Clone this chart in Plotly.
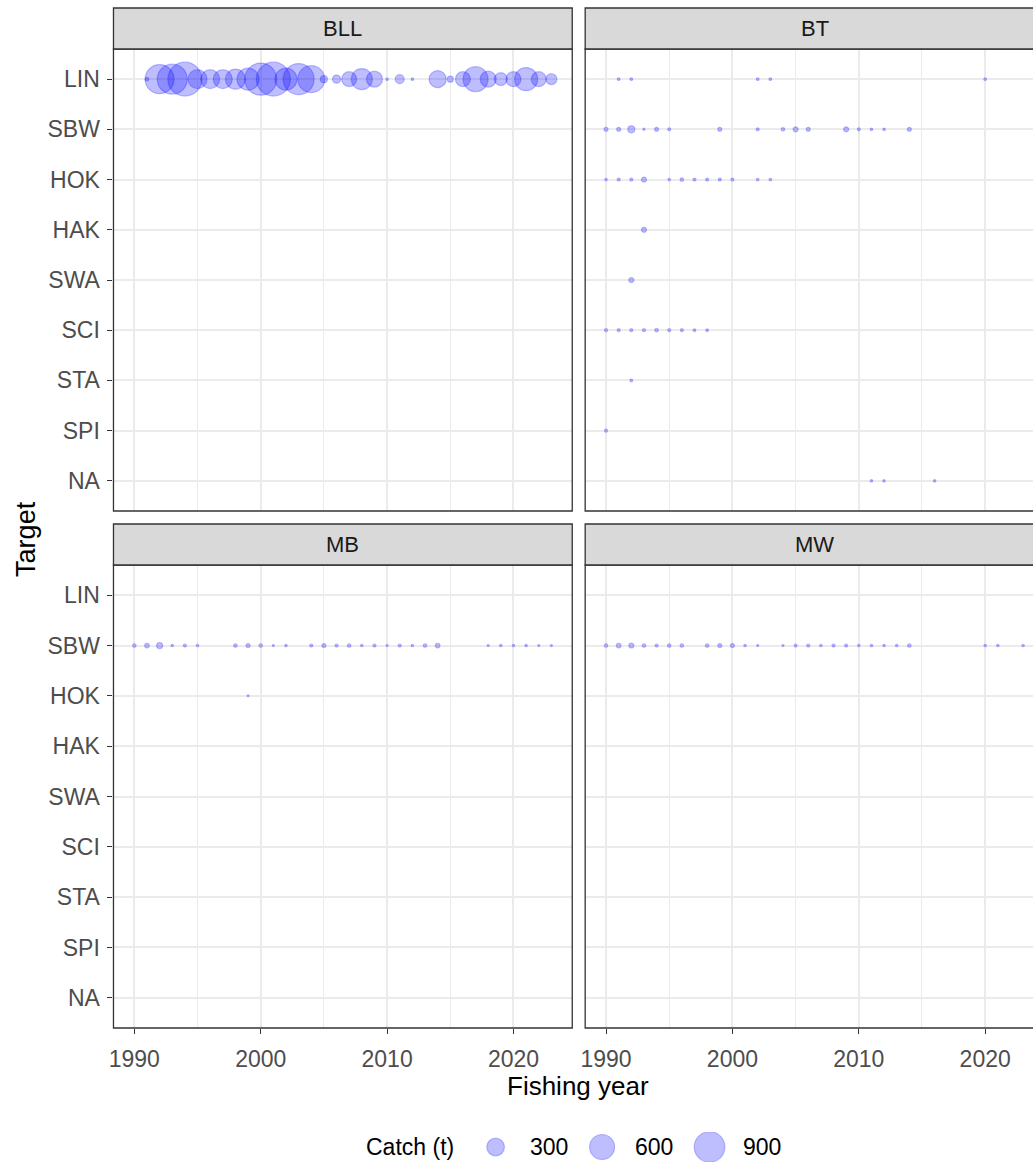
import plotly.graph_objects as go

# ---- data -----------------------------------------------------------------
methods = ["BLL", "BT", "MB", "MW"]
targets = ["LIN", "SBW", "HOK", "HAK", "SWA", "SCI", "STA", "SPI", "NA"]
legend_breaks = [300, 600, 900]

bll_lin_year = [1991, 1992, 1993, 1994, 1995, 1996, 1997, 1998, 1999, 2000,
                2001, 2002, 2003, 2004, 2005, 2006, 2007, 2008, 2009, 2010,
                2011, 2012, 2014, 2015, 2016, 2017, 2018, 2019, 2020, 2021,
                2022, 2023]
bll_lin_catch = [13, 810, 865, 1110, 345, 345, 345, 385, 465, 985,
                 1110, 465, 925, 700, 47, 62, 215, 425, 245, 6,
                 78, 6, 280, 35, 215, 600, 245, 160, 215, 510,
                 215, 115]

bt_lin_year = [1991, 1992, 2002, 2003, 2020]
bt_lin_catch = [7, 7, 7, 7, 7]
bt_sbw_year = [1990, 1991, 1992, 1993, 1994, 1995, 1999, 2002, 2004, 2005,
               2006, 2009, 2010, 2011, 2012, 2014]
bt_sbw_catch = [15, 15, 47, 5, 15, 9, 15, 9, 12, 24, 15, 24, 9, 6, 6, 15]
bt_hok_year = [1990, 1991, 1992, 1993, 1995, 1996, 1997, 1998, 1999, 2000,
               2002, 2003]
bt_hok_catch = [6, 9, 9, 24, 6, 12, 9, 9, 9, 9, 6, 6]
bt_hak_year = [1993]
bt_hak_catch = [24]
bt_swa_year = [1992]
bt_swa_catch = [24]
bt_sci_year = [1990, 1991, 1992, 1993, 1994, 1995, 1996, 1997, 1998]
bt_sci_catch = [9, 9, 9, 9, 12, 9, 9, 7, 7]
bt_sta_year = [1992]
bt_sta_catch = [7]
bt_spi_year = [1990]
bt_spi_catch = [9]
bt_na_year = [2011, 2012, 2016]
bt_na_catch = [6, 6, 6]

mb_sbw_year = [1990, 1991, 1992, 1993, 1994, 1995, 1998, 1999, 2000, 2001,
               2002, 2004, 2005, 2006, 2007, 2008, 2009, 2010, 2011, 2012,
               2013, 2014, 2018, 2019, 2020, 2021, 2022, 2023]
mb_sbw_catch = [12, 20, 35, 6, 9, 6, 12, 15, 12, 4,
                6, 9, 15, 9, 12, 6, 9, 4, 9, 6,
                12, 20, 4, 6, 6, 6, 4, 4]
mb_hok_year = [1999]
mb_hok_catch = [4]

mw_sbw_year = [1990, 1991, 1992, 1993, 1994, 1995, 1996, 1998, 1999, 2000,
               2001, 2002, 2004, 2005, 2006, 2007, 2008, 2009, 2010, 2011,
               2012, 2013, 2014, 2020, 2021, 2023]
mw_sbw_catch = [12, 20, 24, 12, 9, 12, 12, 12, 15, 15,
                6, 4, 4, 9, 9, 6, 9, 9, 6, 6,
                6, 6, 12, 6, 6, 6]

series = {
    "BLL": [("LIN", bll_lin_year, bll_lin_catch)],
    "BT": [("LIN", bt_lin_year, bt_lin_catch),
           ("SBW", bt_sbw_year, bt_sbw_catch),
           ("HOK", bt_hok_year, bt_hok_catch),
           ("HAK", bt_hak_year, bt_hak_catch),
           ("SWA", bt_swa_year, bt_swa_catch),
           ("SCI", bt_sci_year, bt_sci_catch),
           ("STA", bt_sta_year, bt_sta_catch),
           ("SPI", bt_spi_year, bt_spi_catch),
           ("NA", bt_na_year, bt_na_catch)],
    "MB": [("SBW", mb_sbw_year, mb_sbw_catch),
           ("HOK", mb_hok_year, mb_hok_catch)],
    "MW": [("SBW", mw_sbw_year, mw_sbw_catch)],
}

# ---- styling --------------------------------------------------------------
W, H = 1033, 1164
FONT = "Liberation Sans, Arial, sans-serif"
FILL = "rgba(0,0,255,0.36)"
EDGE_W = 1.2
SIZEREF = 2 / 1.02 ** 2
GRID = "#EBEBEB"
BORDER = "#333333"

# panel pixel boxes (left, right) and (top, bottom)
px_left = (109, 570)
px_right = (583, 1044)
px_top = (49, 511)
px_bot = (565, 1028)
x_lo, x_hi = 1988.35, 2024.65
px_per_year = (px_left[1] - px_left[0]) / (x_hi - x_lo)


def xdom(box):
    return [box[0] / W, min(box[1], W) / W]


def ydom(box):
    return [1 - box[1] / H, 1 - box[0] / H]


def ax(letter, i):
    return letter if i == 1 else f"{letter}{i}"


panels = {
    "BLL": (1, px_left, px_top),
    "BT": (2, px_right, px_top),
    "MB": (3, px_left, px_bot),
    "MW": (4, px_right, px_bot),
}

fig = go.Figure()
shapes, annotations = [], []

for m in methods:
    i, bx, by = panels[m]
    xa, ya = ax("x", i), ax("y", i)
    xs, ys, cs = [], [], []
    for tgt, yr, ct in series[m]:
        xs += yr
        ys += [targets.index(tgt)] * len(yr)
        cs += ct
    fig.add_trace(go.Scatter(
        x=xs, y=ys, mode="markers", xaxis=xa, yaxis=ya,
        marker=dict(size=cs, sizemode="area", sizeref=SIZEREF,
                    color=FILL, line=dict(color=FILL, width=EDGE_W)),
        showlegend=False, hoverinfo="skip"))

    right = bx[0] == px_right[0]
    bottom = by[0] == px_bot[0]
    x_end = x_lo + (min(bx[1], W) - bx[0]) / px_per_year
    fig.update_layout(**{
        f"xaxis{i}": dict(
            domain=xdom(bx), range=[x_lo, x_end], anchor=ya,
            tickmode="array", tickvals=[1990, 2000, 2010, 2020],
            showticklabels=bottom, ticks="outside" if bottom else "",
            ticklen=5, tickwidth=1.1, tickcolor=BORDER,
            ticklabelstandoff=5,
            tickfont=dict(family=FONT, size=23, color="#4D4D4D"),
            showgrid=True, gridcolor=GRID, gridwidth=2, zeroline=False,
            minor=dict(tickmode="array", tickvals=[1995, 2005, 2015],
                       showgrid=True, gridcolor=GRID, gridwidth=1),
            showline=False),
        f"yaxis{i}": dict(
            domain=ydom(by), range=[len(targets) - 0.4, -0.6],
            anchor=xa, tickmode="array",
            tickvals=list(range(len(targets))), ticktext=targets,
            showticklabels=not right, ticks="" if right else "outside",
            ticklen=5, tickwidth=1.1, tickcolor=BORDER,
            ticklabelstandoff=3,
            tickfont=dict(family=FONT, size=23, color="#4D4D4D"),
            showgrid=True, gridcolor=GRID, gridwidth=2, zeroline=False,
            showline=False),
    })

    # panel border (right-hand panels run past the page edge)
    x1d = (bx[1] - bx[0]) / (min(bx[1], W) - bx[0])
    shapes.append(dict(type="rect", xref=f"{xa} domain", yref=f"{ya} domain",
                       x0=0, x1=x1d, y0=0, y1=1,
                       line=dict(color=BORDER, width=1.3),
                       fillcolor="rgba(0,0,0,0)", layer="above"))
    # strip header
    strip_h = 41 / (by[1] - by[0])
    shapes.append(dict(type="rect", xref=f"{xa} domain", yref=f"{ya} domain",
                       x0=0, x1=x1d, y0=1, y1=1 + strip_h,
                       line=dict(color=BORDER, width=1.3),
                       fillcolor="#D9D9D9", layer="above"))
    annotations.append(dict(text=m, xref=f"{xa} domain", yref=f"{ya} domain",
                            x=x1d / 2, y=1 + strip_h / 2, showarrow=False,
                            xanchor="center", yanchor="middle",
                            font=dict(family=FONT, size=22, color="#1A1A1A")))

# axis titles
annotations.append(dict(text="Target", xref="paper", yref="paper",
                        x=21 / W, y=1 - 539 / H, textangle=-90,
                        showarrow=False, xanchor="center", yanchor="middle",
                        font=dict(family=FONT, size=27, color="#000000")))
annotations.append(dict(text="Fishing year", xref="paper", yref="paper",
                        x=576 / W, y=1 - 1086 / H, showarrow=False,
                        xanchor="center", yanchor="middle",
                        font=dict(family=FONT, size=26, color="#000000")))

# size legend drawn on its own hidden axes, using the same size scale
legend_key_x = [493, 600, 708]
legend_label_x = [526, 631, 740]
fig.add_trace(go.Scatter(
    x=legend_key_x, y=[0.5] * len(legend_breaks), mode="markers",
    xaxis="x5", yaxis="y5",
    marker=dict(size=legend_breaks, sizemode="area", sizeref=SIZEREF,
                color=FILL, line=dict(color=FILL, width=EDGE_W)),
    showlegend=False, hoverinfo="skip"))
fig.update_layout(
    xaxis5=dict(domain=[0, 1], range=[0, W], visible=False, anchor="y5"),
    yaxis5=dict(domain=[1 - 1162 / H, 1 - 1132 / H], range=[0, 1],
                visible=False, anchor="x5"),
)
annotations.append(dict(text="Catch (t)", xref="x5", yref="y5", x=361, y=0.5,
                        showarrow=False, xanchor="left", yanchor="middle",
                        font=dict(family=FONT, size=23, color="#000000")))
for b, lx in zip(legend_breaks, legend_label_x):
    annotations.append(dict(text=str(b), xref="x5", yref="y5", x=lx, y=0.5,
                            showarrow=False, xanchor="left", yanchor="middle",
                            font=dict(family=FONT, size=23, color="#000000")))

fig.update_layout(
    width=W, height=H, margin=dict(l=0, r=0, t=0, b=0),
    paper_bgcolor="white", plot_bgcolor="white",
    shapes=shapes, annotations=annotations, showlegend=False,
)

fig.write_html("out.html")
